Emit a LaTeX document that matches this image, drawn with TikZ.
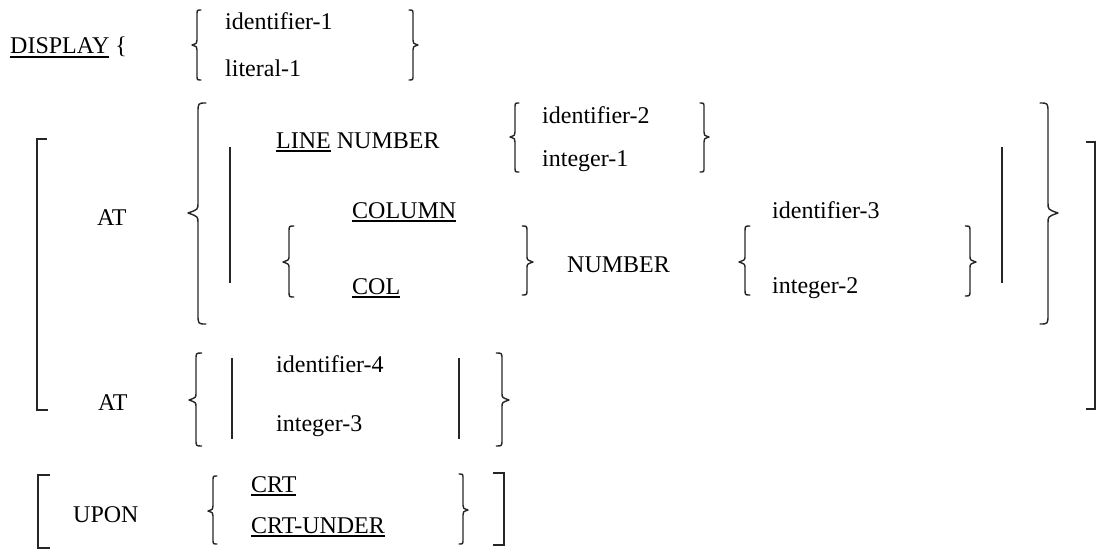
\documentclass[tikz,border=0pt]{standalone}
\usepackage{fontspec}
\setmainfont{Liberation Serif}
\newcommand{\undl}[1]{\setbox0\hbox{#1}\rlap{\vrule width\wd0 height -2.3pt depth 3.8pt}\box0\relax}
% \Brc{xv}{ytop}{ybot}{ymid}{d}: d>0 left brace, d<0 right brace
\newcommand{\Brc}[5]{%
  \draw[bracestyle] ({#1+0.8*(#5)},#2) .. controls (#1,#2) .. (#1,{#2+abs(#5)})
    -- (#1,{#4-abs(#5)}) .. controls (#1,{#4-0.35*abs(#5)}) .. ({#1-(#5)},#4)
    .. controls (#1,{#4+0.35*abs(#5)}) .. (#1,{#4+abs(#5)})
    -- (#1,{#3-abs(#5)}) .. controls (#1,#3) .. ({#1+0.8*(#5)},#3);}
\tikzset{
  txt/.style={anchor=base west, inner sep=0pt, font=\fontsize{24}{28}\selectfont},
  bracestyle/.style={line width=1.4pt, black!85, line cap=round, line join=round},
  barstyle/.style={line width=2pt, black!85},
  brkstyle/.style={line width=2pt, black!85, line join=miter}
}
\begin{document}
\begin{tikzpicture}[x=1pt,y=-1pt]
\useasboundingbox (0,0) rectangle (1097,551);
% row 1
\node[txt] (display) at (10,54) {\undl{DISPLAY} \{};
\node[txt] (id1) at (225,30) {identifier-1};
\node[txt] (lit1) at (225,76) {literal-1};
\Brc{197}{10}{80}{45}{5}
\Brc{413}{10}{80}{45}{-5}
% AT block
\draw[brkstyle] (47,139) -- (37,139) -- (37,410) -- (48,410);
\draw[brkstyle] (1086,142) -- (1095,142) -- (1095,409) -- (1086,409);
\node[txt] (at1) at (97,225) {AT};
\Brc{198}{103}{324}{213}{10}
\Brc{1048}{103}{324}{213}{-10}
\coordinate (b1t) at (230,147); \coordinate (b1b) at (230,283);
\coordinate (b2t) at (1002,147); \coordinate (b2b) at (1002,283);
\draw[barstyle] (b1t) -- (b1b);
\draw[barstyle] (b2t) -- (b2b);
\node[txt] (line) at (276,148) {\undl{LINE} NUMBER};
\node[txt] (id2) at (542,123) {identifier-2};
\node[txt] (int1) at (542,166) {integer-1};
\Brc{515}{103}{172}{137}{5}
\Brc{704}{103}{172}{137}{-5}
\node[txt] (column) at (352,218) {\undl{COLUMN}};
\node[txt] (col) at (352,294) {\undl{COL}};
\Brc{289}{226}{297}{262}{6}
\Brc{527}{226}{295}{262}{-6}
\node[txt] (number) at (567,272) {NUMBER};
\node[txt] (id3) at (772,218) {identifier-3};
\node[txt] (int2) at (772,293) {integer-2};
\Brc{745}{226}{295}{262}{6}
\Brc{970}{226}{296}{262}{-6}
% AT 2
\node[txt] (at2) at (98,410) {AT};
\Brc{196}{353}{446}{400}{7}
\Brc{502}{353}{446}{400}{-7}
\coordinate (b3t) at (232,358); \coordinate (b3b) at (232,439);
\coordinate (b4t) at (459,358); \coordinate (b4b) at (459,439);
\draw[barstyle] (b3t) -- (b3b);
\draw[barstyle] (b4t) -- (b4b);
\node[txt] (id4) at (276,372) {identifier-4};
\node[txt] (int3) at (276,431) {integer-3};
% UPON
\draw[brkstyle] (50,475) -- (38,475) -- (38,548) -- (50,548);
\draw[brkstyle] (493,473) -- (504,473) -- (504,545) -- (493,545);
\node[txt] (upon) at (73,522) {UPON};
\Brc{213}{476}{544}{511}{5}
\Brc{463}{474}{544}{510}{-5}
\node[txt] (crt) at (251,492) {\undl{CRT}};
\node[txt] (crtu) at (251,533) {\undl{CRT-UNDER}};
\end{tikzpicture}
\end{document}
